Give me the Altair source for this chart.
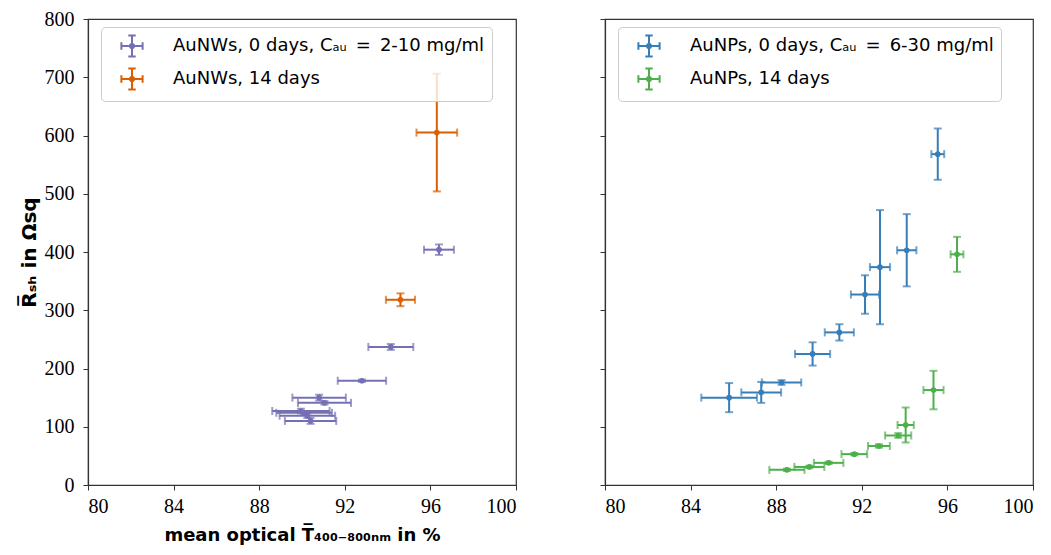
import altair as alt
import pandas as pd

# ---------------- data ----------------
NW0_NAME = "AuNWs, 0 days, Cₐᵤ\u2002=\u20022-10 mg/ml"
NW14_NAME = "AuNWs, 14 days"
NP0_NAME = "AuNPs, 0 days, Cₐᵤ\u2002=\u20026-30 mg/ml"
NP14_NAME = "AuNPs, 14 days"

nw0_x = [96.4, 94.15, 92.8, 90.8, 91.05, 89.95, 90.1, 90.25, 90.4]
nw0_xerr = [0.7, 1.05, 1.13, 1.25, 1.24, 1.34, 1.3, 1.3, 1.2]
nw0_y = [404, 237, 179, 150, 141, 127, 124, 119, 110]
nw0_yerr = [9, 5, 2, 5, 3, 4, 3, 4, 5]

nw14_x = [96.3, 94.6]
nw14_xerr = [0.95, 0.68]
nw14_y = [605, 318]
nw14_yerr = [101, 11]

np0_x = [95.55, 94.1, 92.85, 92.15, 90.95, 89.7, 88.25, 87.3, 85.8]
np0_xerr = [0.3, 0.45, 0.47, 0.66, 0.68, 0.82, 0.92, 0.93, 1.3]
np0_y = [568, 403, 374, 327, 262, 225, 176, 159, 150]
np0_yerr = [44, 62, 98, 33, 14, 20, 4, 18, 25]

np14_x = [96.45, 95.35, 94.05, 93.7, 92.8, 91.65, 90.45, 89.55, 88.5]
np14_xerr = [0.3, 0.47, 0.38, 0.61, 0.51, 0.6, 0.69, 0.7, 0.82]
np14_y = [396, 163, 103, 85, 67, 53, 38, 31, 26]
np14_yerr = [30, 33, 30, 4, 3, 2, 2, 2, 2]

x_ticks = [80, 84, 88, 92, 96, 100]
y_ticks = [0, 100, 200, 300, 400, 500, 600, 700, 800]

C_PURPLE = "#7570b3"
C_ORANGE = "#d95f02"
C_BLUE = "#377eb8"
C_GREEN = "#4daf4a"

X_TITLE = "mean optical T̅₄₀₀₋₈₀₀ₙₘ in %"
Y_TITLE = "R̅ₛₕ in Ωsq"


def frame(name, xs, xe, ys, ye):
    return pd.DataFrame({"series": name, "x": xs, "xerr": xe, "y": ys, "yerr": ye})


left_df = pd.concat([frame(NW0_NAME, nw0_x, nw0_xerr, nw0_y, nw0_yerr),
                     frame(NW14_NAME, nw14_x, nw14_xerr, nw14_y, nw14_yerr)],
                    ignore_index=True)
right_df = pd.concat([frame(NP0_NAME, np0_x, np0_xerr, np0_y, np0_yerr),
                      frame(NP14_NAME, np14_x, np14_xerr, np14_y, np14_yerr)],
                     ignore_index=True)

LEGEND_SYMBOL = ("M-1,0H1M0,-1V1M-1,-0.35V0.35M1,-0.35V0.35"
                 "M-0.35,-1H0.35M-0.35,1H0.35"
                 "M-0.2,0A0.2,0.2,0,1,0,0.2,0A0.2,0.2,0,1,0,-0.2,0Z")


def panel(df, names, colors, left):
    xs = alt.Scale(domain=[80, 100], nice=False, zero=False)
    ys = alt.Scale(domain=[0, 800], nice=False, zero=False)
    if left:
        xaxis = alt.Axis(values=x_ticks, title=X_TITLE, format="d", titlePadding=10)
        yaxis = alt.Axis(values=y_ticks, title=Y_TITLE, format="d",
                         labelPadding=9, titlePadding=5, titleFontSize=20)
    else:
        xaxis = alt.Axis(values=x_ticks, title=None, format="d")
        yaxis = alt.Axis(values=y_ticks, title=None, labels=False)
    color = alt.Color(
        "series:N",
        scale=alt.Scale(domain=names, range=colors),
        sort=names,
        legend=alt.Legend(title=None, orient="none", legendX=13, legendY=8,
                          symbolType=LEGEND_SYMBOL),
    )
    base = alt.Chart(df).transform_calculate(
        xlo="datum.x - datum.xerr",
        xhi="datum.x + datum.xerr",
        ylo="datum.y - datum.yerr",
        yhi="datum.y + datum.yerr",
    )
    hbar = base.mark_rule(strokeWidth=2).encode(
        x=alt.X("xlo:Q", scale=xs, axis=xaxis),
        x2="xhi:Q",
        y=alt.Y("y:Q", scale=ys, axis=yaxis),
        color=color,
    )
    vbar = base.mark_rule(strokeWidth=2).encode(
        x="x:Q", y="ylo:Q", y2="yhi:Q", color=color
    )
    cap_xl = base.mark_tick(orient="vertical", size=8, thickness=2).encode(
        x="xlo:Q", y="y:Q", color=color)
    cap_xh = base.mark_tick(orient="vertical", size=8, thickness=2).encode(
        x="xhi:Q", y="y:Q", color=color)
    cap_yl = base.mark_tick(orient="horizontal", size=8, thickness=2).encode(
        x="x:Q", y="ylo:Q", color=color)
    cap_yh = base.mark_tick(orient="horizontal", size=8, thickness=2).encode(
        x="x:Q", y="yhi:Q", color=color)
    pts = base.mark_circle(size=32, opacity=1).encode(
        x="x:Q", y="y:Q", color=color)
    return alt.layer(hbar, vbar, cap_xl, cap_xh, cap_yl, cap_yh, pts).properties(
        width=428, height=466)


left_chart = panel(left_df, [NW0_NAME, NW14_NAME], [C_PURPLE, C_ORANGE], True)
right_chart = panel(right_df, [NP0_NAME, NP14_NAME], [C_BLUE, C_GREEN], False)

chart = (
    alt.hconcat(left_chart, right_chart, spacing=80)
    .resolve_scale(color="independent")
    .properties(padding={"left": 10, "top": 0, "right": 0, "bottom": 0})
    .configure_view(stroke="#333333", strokeWidth=1.2)
    .configure_axis(
        grid=False,
        domainColor="#333333",
        domainWidth=1.2,
        tickColor="#333333",
        tickSize=5,
        tickWidth=1,
        labelFont="Liberation Serif",
        labelFontSize=20,
        labelColor="black",
        labelPadding=6,
        titleFont="DejaVu Sans",
        titleFontSize=18,
        titleFontWeight="bold",
        titleColor="black",
        titlePadding=8,
    )
    .configure_legend(
        labelFont="DejaVu Sans",
        labelFontSize=18,
        labelColor="black",
        labelLimit=420,
        symbolSize=450,
        symbolStrokeWidth=2,
        symbolOpacity=1,
        symbolOffset=12,
        labelOffset=29,
        rowPadding=3,
        padding=7,
        fillColor="rgba(255,255,255,0.8)",
        strokeColor="#cccccc",
        cornerRadius=4,
    )
)

chart.save("out.html", embed_options={"renderer": "svg", "actions": False})
